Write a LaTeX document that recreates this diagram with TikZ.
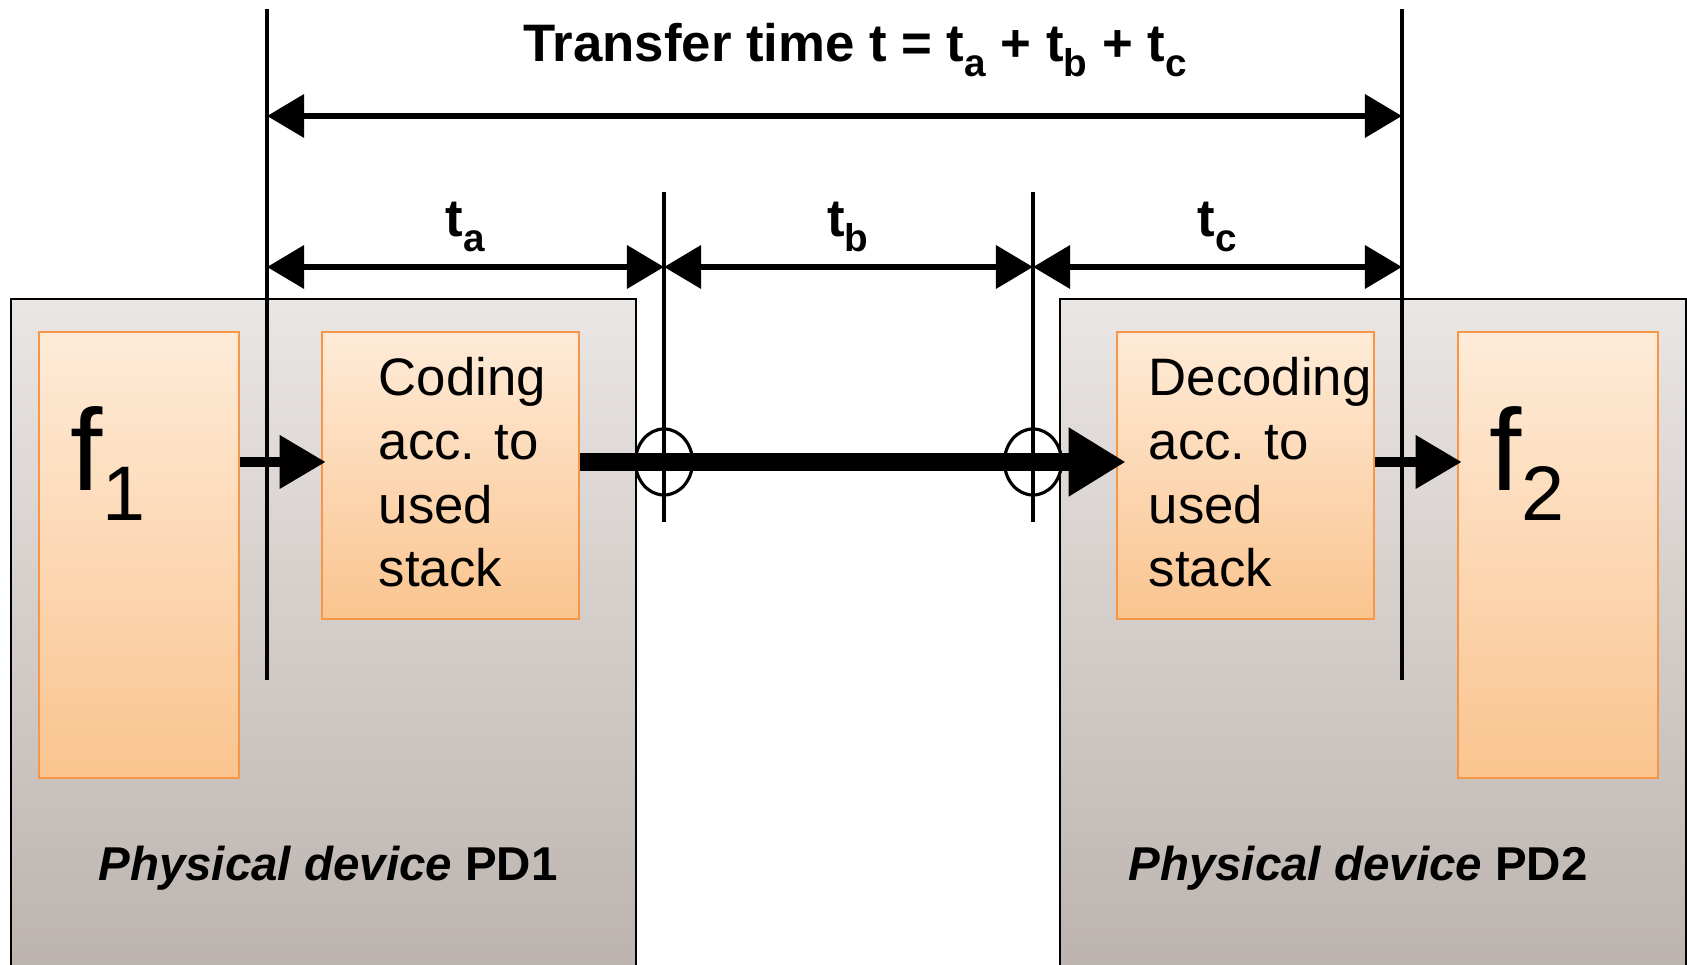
\documentclass[tikz,border=0pt]{standalone}
\usepackage{fontspec}
\setmainfont{Liberation Sans}
\usepackage{tikz}
\usetikzlibrary{positioning}
\usetikzlibrary{arrows.meta}
\usetikzlibrary{shapes.geometric}
\usepackage{xcolor}

\definecolor{greytop}{RGB}{234,230,228}
\definecolor{greybot}{RGB}{186,177,172}
\definecolor{orangetop}{RGB}{254,235,216}
\definecolor{orangebot}{RGB}{250,196,143}
\definecolor{orangeline}{RGB}{247,150,70}

\newcommand{\tsub}[1]{\raisebox{-4pt}{\fontsize{11}{12}\selectfont #1}}
\newcommand{\fname}[1]{\fontsize{33}{36}\selectfont f\raisebox{-8.3pt}{\fontsize{22}{24}\selectfont #1}}

\begin{document}
\begin{tikzpicture}[x=0.01cm, y=-0.01cm,
    device/.style={draw=black, line width=0.6pt, top color=greytop, bottom color=greybot, inner sep=0pt},
    func/.style={draw=orangeline, line width=0.7pt, top color=orangetop, bottom color=orangebot, inner sep=0pt},
    lbl/.style={font=\fontsize{15}{18}\selectfont\bfseries, inner sep=0pt},
    devlbl/.style={font=\fontsize{13.5}{16}\selectfont\bfseries, inner sep=0pt},
    stacktext/.style={font=\fontsize{15}{18.1}\selectfont, align=left, inner sep=0pt},
    ring/.style={ellipse, draw, line width=0.9pt, minimum width=5.7mm, minimum height=6.6mm, inner sep=0pt},
    vline/.style={line width=0.9pt},
    dim/.style={line width=1.9pt, {Triangle[length=3.7mm,width=4.2mm]}-{Triangle[length=3.7mm,width=4.2mm]}},
    flow/.style={line width=2.85pt, -{Triangle[length=4.6mm,width=5.1mm]}, shorten >=-0.5mm},
    bigflow/.style={line width=5.1pt, -{Triangle[length=5.7mm,width=6.5mm]}, shorten >=-1mm}]
  \useasboundingbox (0,0) rectangle (1687,965);

  \node[device, minimum width=6.25cm, minimum height=7cm] (pd1) at (323.5,649) {};
  \node[device, minimum width=6.26cm, minimum height=7cm] (pd2) at (1373,649) {};

  \node[func, minimum width=2cm, minimum height=4.46cm] (f1) at (139,555) {};
  \node[func, minimum width=2.57cm, minimum height=2.87cm] (coding) at (450.5,475.5) {};
  \node[func, minimum width=2.57cm, minimum height=2.87cm] (decoding) at (1245.5,475.5) {};
  \node[func, minimum width=2cm, minimum height=4.46cm] (f2) at (1558,555) {};

  \node[inner sep=0pt, anchor=base west] (f1lbl) at (70,491) {\fname{1}};
  \node[inner sep=0pt, anchor=base west] (f2lbl) at (1489,491) {\fname{2}};
  \node[stacktext, anchor=north west] (ctext) at (378,357) {Coding\\acc. to\\used\\stack};
  \node[stacktext, anchor=north west] (dtext) at (1148,357) {Decoding\\acc. to\\used\\stack};
  \node[devlbl, anchor=base] (pd1lbl) at (328,881) {\textit{Physical device} PD1};
  \node[devlbl, anchor=base] (pd2lbl) at (1358,881) {\textit{Physical device} PD2};

  \coordinate (a0) at (267,9);
  \coordinate (a1) at (267,680);
  \coordinate (b0) at (664,192);
  \coordinate (b1) at (664,522);
  \coordinate (c0) at (1033,192);
  \coordinate (c1) at (1033,522);
  \coordinate (d0) at (1402,9);
  \coordinate (d1) at (1402,680);
  \coordinate (top) at (0,116);
  \coordinate (mid) at (0,267);
  \coordinate (sig) at (0,462);

  \draw[vline] (a0) -- (a1);
  \draw[vline] (b0) -- (b1);
  \draw[vline] (c0) -- (c1);
  \draw[vline] (d0) -- (d1);

  \draw[dim] (a0 |- top) -- (d0 |- top);
  \draw[dim] (a0 |- mid) -- (b0 |- mid);
  \draw[dim] (b0 |- mid) -- (c0 |- mid);
  \draw[dim] (c0 |- mid) -- (d0 |- mid);

  \node[lbl, anchor=base] (ttot) at (855,62) {Transfer time t = t\tsub{a} + t\tsub{b} + t\tsub{c}};
  \node[lbl, anchor=base] (ta) at (465,237) {t\tsub{a}};
  \node[lbl, anchor=base] (tb) at (848,237) {t\tsub{b}};
  \node[lbl, anchor=base] (tc) at (1217,237) {t\tsub{c}};

  \draw[flow] (f1.east |- sig) -- (coding.west |- sig);
  \draw[bigflow] (coding.east |- sig) -- (decoding.west |- sig);
  \draw[flow] (decoding.east |- sig) -- (f2.west |- sig);

  \node[ring] (ra) at (b0 |- sig) {};
  \node[ring] (rb) at (c0 |- sig) {};
\end{tikzpicture}
\end{document}
